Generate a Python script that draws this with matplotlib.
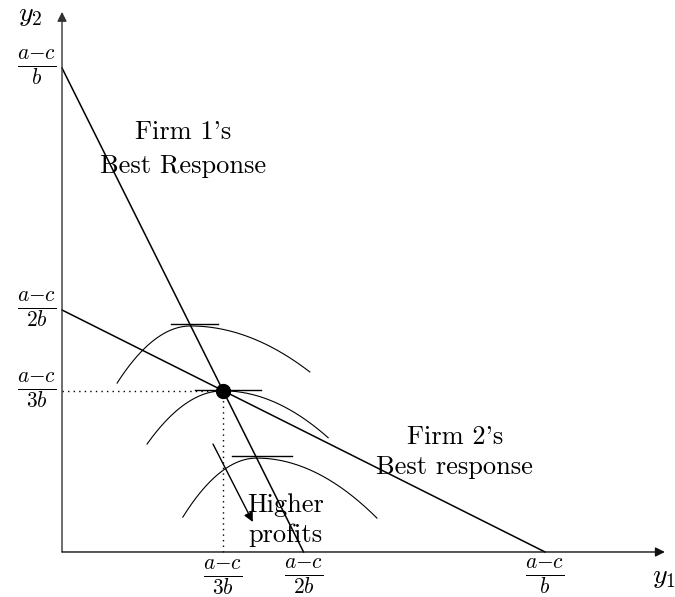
import numpy as np
import matplotlib
matplotlib.use("Agg")
import matplotlib.pyplot as plt

plt.rcParams['mathtext.fontset'] = 'cm'
plt.rcParams['font.family'] = ['cmr10', 'DejaVu Serif']

# quantities in units of (a-c)/b
br1 = ([0.0, 0.5], [1.0, 0.0])          # firm 1's best response (y1, y2)
br2 = ([0.0, 1.0], [0.5, 0.0])          # firm 2's best response
nash = (1 / 3, 1 / 3)

# isoprofit curves: peak (x, y), left end (x, y), right end (x, y)
curve_peaks = [(0.266, 0.467), (0.333, 0.333), (0.403, 0.194)]
curve_left = [(0.114, 0.349), (0.176, 0.223), (0.250, 0.072)]
curve_right = [(0.513, 0.372), (0.551, 0.236), (0.652, 0.070)]
# horizontal tangent segments: (x0, x1, y)
tangents = [(0.226, 0.323, 0.471), (0.275, 0.412, 0.335), (0.352, 0.476, 0.198)]

x_ticks = [1 / 3, 1 / 2, 1]
x_tick_labels = [r'$\frac{a{-}c}{3b}$', r'$\frac{a{-}c}{2b}$', r'$\frac{a{-}c}{b}$']
y_ticks = [1, 1 / 2, 1 / 3]
y_tick_labels = [r'$\frac{a{-}c}{b}$', r'$\frac{a{-}c}{2b}$', r'$\frac{a{-}c}{3b}$']

fig = plt.figure(figsize=(6.75, 5.97), dpi=100)
ax = fig.add_axes([0, 0, 1, 1])
ax.set_xlim(-0.1284, 1.269)
ax.set_ylim(-0.093, 1.1405)
ax.axis('off')

# axes with arrows
ax.annotate('', xy=(0, 1.116), xytext=(0, 0),
            arrowprops=dict(arrowstyle='-|>', color='#333333', lw=1.0, mutation_scale=14, shrinkA=0, shrinkB=0))
ax.annotate('', xy=(1.248, 0), xytext=(0, 0),
            arrowprops=dict(arrowstyle='-|>', color='#111111', lw=1.0, mutation_scale=14, shrinkA=0, shrinkB=0))

# best response lines
ax.plot(*br1, color='black', lw=1.1)
ax.plot(*br2, color='black', lw=1.1)

# dotted guides to the equilibrium
ax.plot([0, nash[0]], [nash[1], nash[1]], color='black', lw=1.0, ls=(0, (1, 3)))
ax.plot([nash[0], nash[0]], [0, nash[1]], color='black', lw=1.0, ls=(0, (1, 3)))

# isoprofit curves (asymmetric parabolas around the peak)
for (px, py), (lx, ly), (rx, ry) in zip(curve_peaks, curve_left, curve_right):
    xl = np.linspace(lx, px, 60)
    yl = py - (py - ly) * ((xl - px) / (lx - px)) ** 2
    xr = np.linspace(px, rx, 80)
    yr = py - (py - ry) * ((xr - px) / (rx - px)) ** 2
    ax.plot(np.r_[xl, xr], np.r_[yl, yr], color='black', lw=0.8)

for x0, x1, yt in tangents:
    ax.plot([x0, x1], [yt, yt], color='black', lw=1.0)

ax.plot(*nash, 'o', color='black', markersize=10, zorder=5)

# higher profits arrow
ax.annotate('', xy=(0.395, 0.062), xytext=(0.3126, 0.223),
            arrowprops=dict(arrowstyle='-|>', color='black', lw=1.0, mutation_scale=14, shrinkA=0, shrinkB=0))

txt = dict(fontsize=19, ha='center', va='center', color='black')
ax.text(0.251, 0.868, "Firm 1's", **txt)
ax.text(0.251, 0.797, "Best Response", **txt)
ax.text(0.813, 0.237, "Firm 2's", **txt)
ax.text(0.813, 0.175, "Best response", **txt)
ax.text(0.462, 0.096, "Higher", **txt)
ax.text(0.462, 0.034, "profits", **txt)

for xt, lab in zip(x_ticks, x_tick_labels):
    ax.text(xt, -0.053, lab, fontsize=22, ha='center', va='center')
for yt, lab in zip(y_ticks, y_tick_labels):
    ax.text(-0.052, yt, lab, fontsize=22, ha='center', va='center')

ax.text(1.245, -0.052, r'$y_1$', fontsize=20, ha='center', va='center')
ax.text(-0.066, 1.109, r'$y_2$', fontsize=20, ha='center', va='center')

fig.savefig('out.png', dpi=100)
